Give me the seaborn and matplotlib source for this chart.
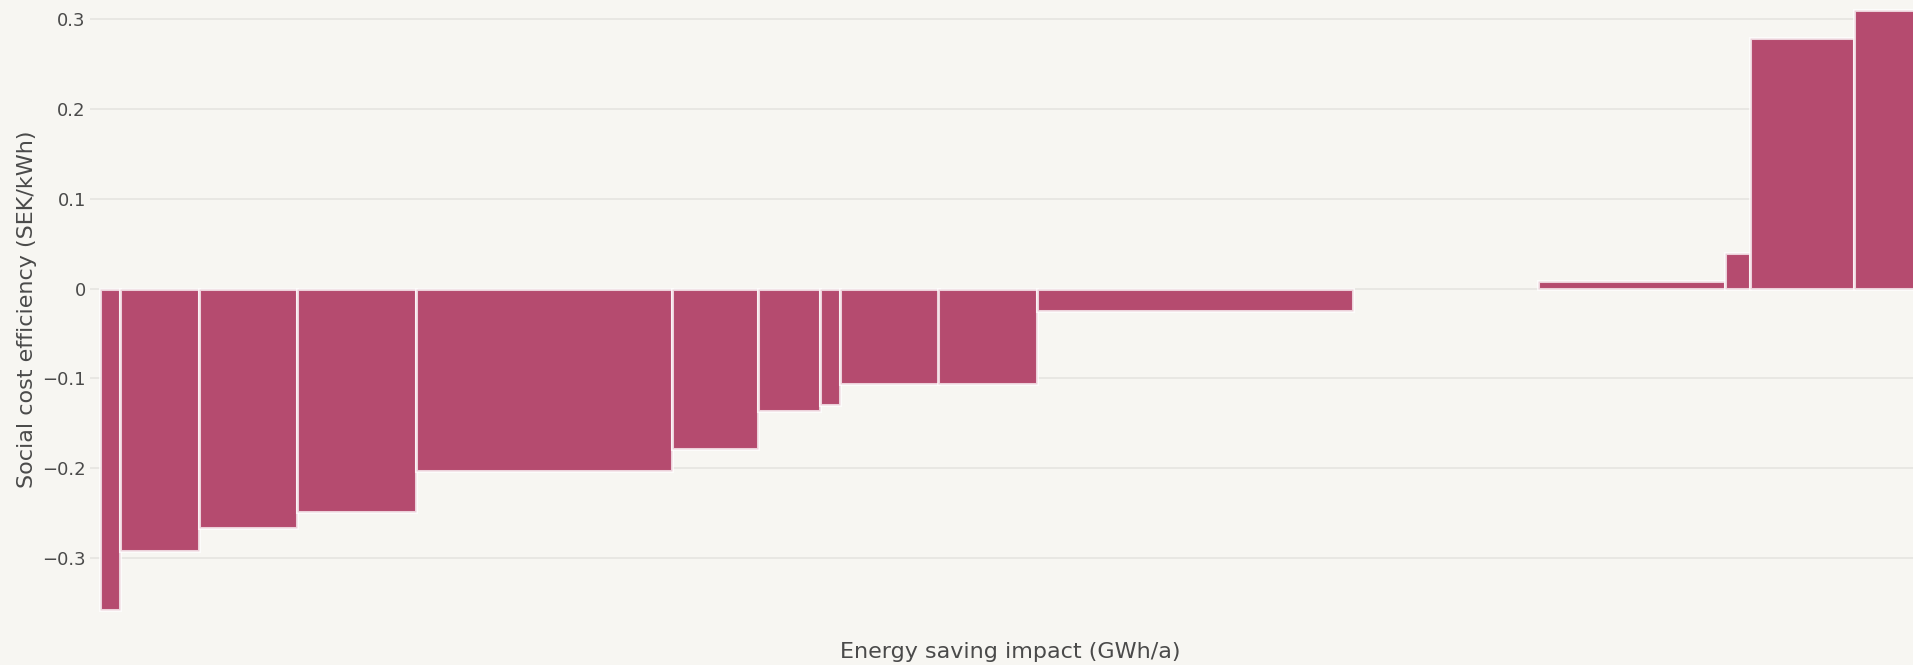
import numpy as np
import matplotlib.pyplot as plt
import seaborn as sns

# Energy saving measures, in the order they appear along the curve
# energy_saving = bar width (GWh/a), cost_efficiency = bar height (SEK/kWh)
# the item with 0 cost is the empty stretch between the negative and positive measures
energy_saving = [2.0, 7.87, 9.83, 11.82, 25.62, 8.66, 6.2, 1.97, 9.85, 9.88,
                 31.54, 18.56, 18.67, 2.5, 10.4, 6.6]
cost_efficiency = [-0.357, -0.292, -0.266, -0.249, -0.203, -0.179, -0.136, -0.130,
                   -0.106, -0.106, -0.025, 0.0, 0.008, 0.040, 0.279, 0.310]

y_ticks = [-0.3, -0.2, -0.1, 0, 0.1, 0.2, 0.3]
y_tick_labels = ["\u22120.3", "\u22120.2", "\u22120.1", "0", "0.1", "0.2", "0.3"]

bg = "#f7f6f2"
bar_color = "#b54b6f"
text_color = "#4a4a4a"

sns.set_theme(style="white", rc={"axes.facecolor": bg, "figure.facecolor": bg})
plt.rcParams["font.family"] = ["DejaVu Sans"]

W, H = 1913, 665
fig = plt.figure(figsize=(W / 100, H / 100), dpi=100)
# plot area runs a bit past the right and top edges of the picture
ax = fig.add_axes([90 / W, (H - 636) / H, 1840 / W, 653 / H])

widths = np.array(energy_saving)
starts = np.concatenate([[0], np.cumsum(widths)[:-1]])
costs = np.array(cost_efficiency)
lw = [0 if c == 0 else 2.2 for c in costs]

ax.bar(starts, costs, width=widths, align="edge", color=bar_color,
       edgecolor=(1, 1, 1, 0.75), linewidth=lw, zorder=3)

ax.set_xlim(-1.03, 182.97)
ax.set_ylim(-0.3864, 0.3397)

ax.set_yticks(y_ticks)
ax.set_yticklabels(y_tick_labels)
ax.set_xticks([])
ax.grid(axis="y", color="#e8e7e3", linewidth=1.4, zorder=0)
ax.tick_params(axis="y", length=0, pad=3, labelsize=13, labelcolor=text_color)
# short dark tick at zero only
ax.set_yticks([0], minor=True)
ax.tick_params(axis="y", which="minor", direction="in", length=6.5, width=1,
               color="#444444")
for s in ax.spines.values():
    s.set_visible(False)

ax.set_ylabel("Social cost efficiency (SEK/kWh)", fontsize=16, color=text_color)
ax.yaxis.label.set_va("center")
ax.yaxis.set_label_coords(-0.0342, 0.5)
ax.set_xlabel("Energy saving impact (GWh/a)", fontsize=16, color=text_color)
ax.xaxis.label.set_va("center")
ax.xaxis.set_label_coords(0.5, -0.024)

fig.savefig("out.png", dpi=100, facecolor=bg)
